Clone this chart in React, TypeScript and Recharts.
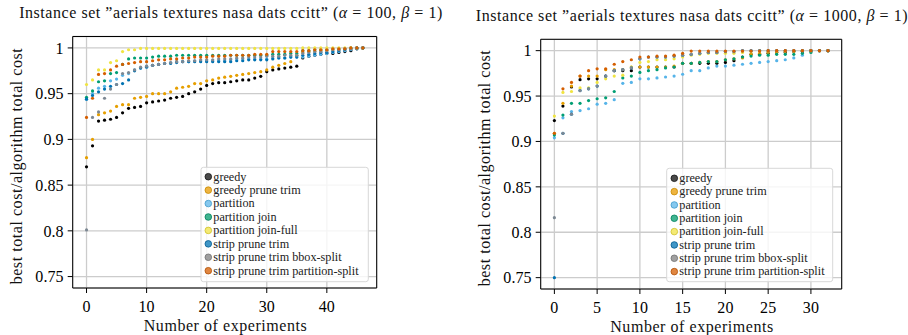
import React from 'react';
import { ScatterChart, Scatter, XAxis, YAxis, CartesianGrid, ReferenceArea } from 'recharts';

const FONT = '"Liberation Serif", "Times New Roman", serif';

const seriesNames = [
  'greedy',
  'greedy prune trim',
  'partition',
  'partition join',
  'partition join-full',
  'strip prune trim',
  'strip prune trim bbox-split',
  'strip prune trim partition-split',
];
const seriesColors = ['#000000', '#E69F00', '#56B4E9', '#009E73', '#F0E442', '#0072B2', '#7d8893', '#D55E00'];
const legendFills = ['#4a4a4a', '#EEB440', '#86C8EE', '#40B490', '#F4EA74', '#4096C6', '#A0A0A0', '#E08640'];
const legendEdges = ['#111111', '#C88A00', '#3F9ACC', '#00805C', '#CFC22A', '#005A90', '#707070', '#B04C00'];

const yTicks = [0.75, 0.8, 0.85, 0.9, 0.95, 1];
const yDomain = [0.7375, 1.0125];

// ---- Left panel (alpha = 100), experiments 0..46 ----
const leftXTicks = [0, 10, 20, 30, 40];
const leftGreedy = [0.870, 0.893, 0.920, 0.921, 0.922, 0.924, 0.929, 0.934, 0.935, 0.936, 0.940, 0.941, 0.942, 0.943, 0.945, 0.946, 0.947, 0.950, 0.952, 0.955, 0.959, 0.961, 0.962, 0.962, 0.963, 0.964, 0.965, 0.965, 0.967, 0.969, 0.974, 0.976, 0.977, 0.978, 0.979, 0.980, 0.989, 0.991, 0.992, 0.993, 0.994, 0.994, 0.995, 0.996, 0.997, 0.999, 1.000];
const leftGreedyPrune = [0.880, 0.900, 0.927, 0.929, 0.931, 0.936, 0.938, 0.938, 0.945, 0.946, 0.947, 0.950, 0.950, 0.950, 0.952, 0.956, 0.957, 0.958, 0.961, 0.961, 0.964, 0.965, 0.967, 0.968, 0.969, 0.970, 0.971, 0.972, 0.973, 0.974, 0.976, 0.979, 0.981, 0.983, 0.985, 0.992, 0.995, 0.996, 0.996, 0.997, 0.997, 0.998, 0.998, 0.999, 0.999, 1.000, 1.000];
const leftPartition = [0.944, 0.950, 0.956, 0.958, 0.964, 0.966, 0.970, 0.972, 0.976, 0.978, 0.980, 0.981, 0.982, 0.983, 0.984, 0.985, 0.985, 0.985, 0.986, 0.986, 0.986, 0.986, 0.986, 0.986, 0.987, 0.988, 0.988, 0.988, 0.988, 0.988, 0.988, 0.989, 0.989, 0.989, 0.990, 0.990, 0.990, 0.991, 0.992, 0.993, 0.994, 0.995, 0.996, 0.997, 0.998, 0.999, 1.000];
const leftPartitionJoin = [0.946, 0.953, 0.963, 0.964, 0.972, 0.973, 0.982, 0.988, 0.989, 0.989, 0.989, 0.990, 0.991, 0.991, 0.991, 0.992, 0.992, 0.992, 0.992, 0.992, 0.992, 0.992, 0.992, 0.992, 0.992, 0.992, 0.992, 0.992, 0.992, 0.992, 0.992, 0.993, 0.993, 0.993, 0.994, 0.994, 0.997, 0.997, 0.998, 0.998, 0.998, 0.999, 0.999, 0.999, 1.000, 1.000, 1.000];
const leftPartitionJoinFull = [0.960, 0.965, 0.976, 0.976, 0.984, 0.986, 0.996, 0.998, 0.998, 0.9995, 0.9995, 0.9995, 0.9995, 0.9995, 0.9995, 0.9995, 0.9995, 0.9995, 0.9995, 0.9995, 0.9995, 0.9995, 0.9995, 0.9995, 0.9995, 0.9995, 0.9995, 0.9995, 0.9995, 0.9995, 0.9995, 0.9995, 0.9995, 0.9995, 0.9995, 0.9995, 1.000, 1.000, 1.000, 1.000, 1.000, 1.000, 1.000, 1.000, 1.000, 1.000, 1.000];
const leftStrip = [0.944, 0.948, 0.952, 0.955, 0.958, 0.960, 0.961, 0.965, 0.975, 0.978, 0.979, 0.981, 0.982, 0.983, 0.983, 0.984, 0.985, 0.985, 0.985, 0.985, 0.985, 0.985, 0.985, 0.985, 0.985, 0.986, 0.986, 0.987, 0.987, 0.987, 0.987, 0.988, 0.989, 0.989, 0.990, 0.990, 0.992, 0.993, 0.994, 0.995, 0.995, 0.996, 0.997, 0.998, 0.999, 1.000, 1.000];
const leftStripBbox = [0.801, 0.924, 0.930, 0.945, 0.955, 0.960, 0.972, 0.973, 0.976, 0.979, 0.980, 0.981, 0.982, 0.983, 0.984, 0.985, 0.985, 0.986, 0.986, 0.987, 0.987, 0.987, 0.988, 0.988, 0.988, 0.989, 0.989, 0.990, 0.990, 0.990, 0.991, 0.991, 0.991, 0.992, 0.992, 0.992, 0.994, 0.995, 0.996, 0.996, 0.997, 0.998, 0.998, 0.999, 0.999, 1.000, 1.000];
const leftStripPartSplit = [0.924, 0.945, 0.971, 0.972, 0.976, 0.980, 0.982, 0.983, 0.984, 0.985, 0.985, 0.986, 0.987, 0.987, 0.988, 0.988, 0.989, 0.989, 0.990, 0.990, 0.990, 0.991, 0.991, 0.991, 0.992, 0.992, 0.992, 0.992, 0.993, 0.993, 0.993, 0.996, 0.996, 0.996, 0.996, 0.996, 0.997, 0.997, 0.998, 0.998, 0.998, 0.999, 0.999, 0.999, 1.000, 1.000, 1.000];

// ---- Right panel (alpha = 1000), experiments 0..32 ----
const rightXTicks = [0, 5, 10, 15, 20, 25, 30];
const rightGreedy = [0.923, 0.939, 0.960, 0.968, 0.969, 0.969, 0.972, 0.978, 0.978, 0.978, 0.982, 0.982, 0.982, 0.982, 0.982, 0.986, 0.986, 0.986, 0.986, 0.986, 0.987, 0.989, 0.993, 0.996, 0.996, 0.997, 0.998, 0.998, 0.999, 0.999, 1.000, 1.000, 1.000];
const rightGreedyPrune = [0.909, 0.942, 0.961, 0.972, 0.972, 0.972, 0.979, 0.979, 0.979, 0.982, 0.982, 0.982, 0.982, 0.982, 0.983, 0.986, 0.986, 0.987, 0.988, 0.988, 0.990, 0.991, 0.992, 0.996, 0.997, 0.998, 0.998, 0.999, 0.999, 1.000, 1.000, 1.000, 1.000];
const rightPartition = [0.904, 0.926, 0.933, 0.934, 0.936, 0.941, 0.942, 0.946, 0.964, 0.965, 0.969, 0.969, 0.970, 0.971, 0.972, 0.974, 0.978, 0.978, 0.981, 0.983, 0.983, 0.984, 0.985, 0.986, 0.987, 0.988, 0.989, 0.990, 0.992, 0.995, 1.000, 1.000, 1.000];
const rightPartitionJoin = [0.907, 0.929, 0.942, 0.942, 0.945, 0.947, 0.948, 0.955, 0.970, 0.972, 0.976, 0.978, 0.979, 0.981, 0.982, 0.986, 0.986, 0.987, 0.988, 0.988, 0.990, 0.991, 0.993, 0.994, 0.995, 0.995, 0.996, 0.996, 0.996, 0.997, 0.998, 1.000, 1.000];
const rightPartitionJoinFull = [0.928, 0.954, 0.955, 0.959, 0.959, 0.965, 0.969, 0.972, 0.973, 0.982, 0.987, 0.988, 0.990, 0.990, 0.991, 0.993, 0.995, 0.996, 0.997, 0.997, 0.997, 0.997, 0.998, 0.999, 1.000, 1.000, 1.000, 1.000, 1.000, 1.000, 1.000, 1.000, 1.000];
const rightStrip = [0.750, 0.909, 0.930, 0.956, 0.958, 0.961, 0.972, 0.978, 0.979, 0.981, 0.991, 0.993, 0.993, 0.993, 0.994, 0.995, 0.996, 0.997, 0.998, 0.998, 0.999, 0.999, 1.000, 1.000, 1.000, 1.000, 1.000, 1.000, 1.000, 1.000, 1.000, 1.000, 1.000];
const rightStripBbox = [0.816, 0.909, 0.930, 0.956, 0.958, 0.961, 0.972, 0.978, 0.979, 0.981, 0.991, 0.993, 0.993, 0.993, 0.994, 0.995, 0.996, 0.997, 0.998, 0.998, 0.999, 0.999, 1.000, 1.000, 1.000, 1.000, 1.000, 1.000, 1.000, 1.000, 1.000, 1.000, 1.000];
const rightStripPartSplit = [0.909, 0.958, 0.965, 0.972, 0.978, 0.980, 0.980, 0.985, 0.988, 0.990, 0.993, 0.993, 0.994, 0.994, 0.995, 0.997, 0.9995, 0.9995, 0.9995, 0.9995, 0.9995, 0.9995, 0.9995, 0.9995, 0.9995, 1.000, 1.000, 1.000, 1.000, 1.000, 1.000, 1.000, 1.000];

const leftSeries = [leftGreedy, leftGreedyPrune, leftPartition, leftPartitionJoin, leftPartitionJoinFull, leftStrip, leftStripBbox, leftStripPartSplit];
const rightSeries = [rightGreedy, rightGreedyPrune, rightPartition, rightPartitionJoin, rightPartitionJoinFull, rightStrip, rightStripBbox, rightStripPartSplit];

const toPoints = (vals: number[]) => vals.map((v, i) => ({ x: i, y: v }));
const fmtY = (v: number) => String(Number(v.toFixed(2)));

type PanelProps = {
  series: number[][];
  xTicks: number[];
  xDomain: number[];
  left: number;
  margin: { top: number; right: number; bottom: number; left: number };
};

const TICK_STYLE = { fill: '#000', fontSize: 16, fontFamily: FONT, letterSpacing: 0.1 };
const LABEL_FS = 16;
const LABEL_LS = 0.55;

function Panel({ series, xTicks, xDomain, left, margin }: PanelProps) {
  return (
    <div style={{ position: 'absolute', left, top: 0 }}>
      <ScatterChart width={454} height={335} margin={margin}>
        <CartesianGrid stroke="#cccccc" strokeWidth={1.3} />
        <XAxis
          type="number"
          dataKey="x"
          domain={xDomain}
          ticks={xTicks}
          allowDataOverflow
          height={30}
          axisLine={false}
          tickSize={5}
          tickMargin={8}
          tickLine={{ stroke: '#000' }}
          tick={TICK_STYLE}
        />
        <YAxis
          type="number"
          dataKey="y"
          domain={yDomain}
          ticks={yTicks}
          allowDataOverflow
          width={60}
          axisLine={false}
          tickSize={5}
          tickMargin={4}
          tickLine={{ stroke: '#000' }}
          tick={TICK_STYLE}
          tickFormatter={fmtY}
        />
        <ReferenceArea
          x1={xDomain[0]}
          x2={xDomain[1]}
          y1={yDomain[0]}
          y2={yDomain[1]}
          fill="none"
          stroke="#000"
          strokeWidth={1}
          strokeOpacity={1}
          ifOverflow="visible"
        />
        {series.map((vals, si) => (
          <Scatter
            key={seriesNames[si]}
            name={seriesNames[si]}
            data={toPoints(vals)}
            isAnimationActive={false}
            shape={(p: any) => <circle cx={p.cx} cy={p.cy} r={1.6} fill={seriesColors[si]} />}
          />
        ))}
      </ScatterChart>
    </div>
  );
}

function LegendBox({ x, y, w, h, rowY0, rowStep, markerX }: { x: number; y: number; w: number; h: number; rowY0: number; rowStep: number; markerX: number }) {
  return (
    <g>
      <rect x={x} y={y} width={w} height={h} rx={2.5} ry={2.5} fill="#ffffff" fillOpacity={0.8} stroke="#d8d8d8" strokeWidth={1} />
      {seriesNames.map((n, i) => (
        <g key={n}>
          <circle cx={markerX} cy={rowY0 + i * rowStep} r={3.3} fill={legendFills[i]} stroke={legendEdges[i]} strokeWidth={0.8} />
          <text x={markerX + 5} y={rowY0 + i * rowStep + 3.8} fontSize={12.2} fontFamily={FONT} fill="#222">
            {n}
          </text>
        </g>
      ))}
    </g>
  );
}

function Title({ cx, y, alpha }: { cx: number; y: number; alpha: string }) {
  return (
    <text x={cx} y={y} textAnchor="middle" fontSize={LABEL_FS} letterSpacing={LABEL_LS} fontFamily={FONT} fill="#111">
      {'Instance set \u201Daerials textures nasa dats ccitt\u201D ('}
      <tspan fontStyle="italic">{'\u03B1'}</tspan>
      {' = ' + alpha + ', '}
      <tspan fontStyle="italic">{'\u03B2'}</tspan>
      {' = 1)'}
    </text>
  );
}

export default function App() {
  return (
    <div style={{ position: 'absolute', left: 0, top: 0, width: 908, height: 335, background: '#fff' }}>
      <Panel
        series={leftSeries}
        xTicks={leftXTicks}
        xDomain={[-2.3, 48.3]}
        left={0}
        margin={{ top: 36.5, right: 77.3, bottom: 17, left: 12.7 }}
      />
      <Panel
        series={rightSeries}
        xTicks={rightXTicks}
        xDomain={[-1.6, 33.6]}
        left={454}
        margin={{ top: 39.3, right: 66.3, bottom: 16, left: 26.7 }}
      />
      <svg width={908} height={335} style={{ position: 'absolute', left: 0, top: 0, pointerEvents: 'none' }}>
        <Title cx={231} y={18} alpha="100" />
        <Title cx={692} y={21} alpha="1000" />
        <text x={225.5} y={331} textAnchor="middle" fontSize={LABEL_FS} letterSpacing={LABEL_LS} fontFamily={FONT} fill="#111">Number of experiments</text>
        <text x={692} y={332} textAnchor="middle" fontSize={LABEL_FS} letterSpacing={LABEL_LS} fontFamily={FONT} fill="#111">Number of experiments</text>
        <text transform="translate(22,166) rotate(-90)" textAnchor="middle" fontSize={LABEL_FS} letterSpacing={LABEL_LS} fontFamily={FONT} fill="#111">best total cost/algorithm total cost</text>
        <text transform="translate(490,168) rotate(-90)" textAnchor="middle" fontSize={LABEL_FS} letterSpacing={LABEL_LS} fontFamily={FONT} fill="#111">best total cost/algorithm total cost</text>
        <LegendBox x={201} y={167.3} w={167.3} h={114.4} rowY0={176.7} rowStep={13.43} markerX={208.3} />
        <LegendBox x={666.7} y={168.3} w={166} h={113.4} rowY0={178.3} rowStep={13.33} markerX={674.3} />
      </svg>
    </div>
  );
}
